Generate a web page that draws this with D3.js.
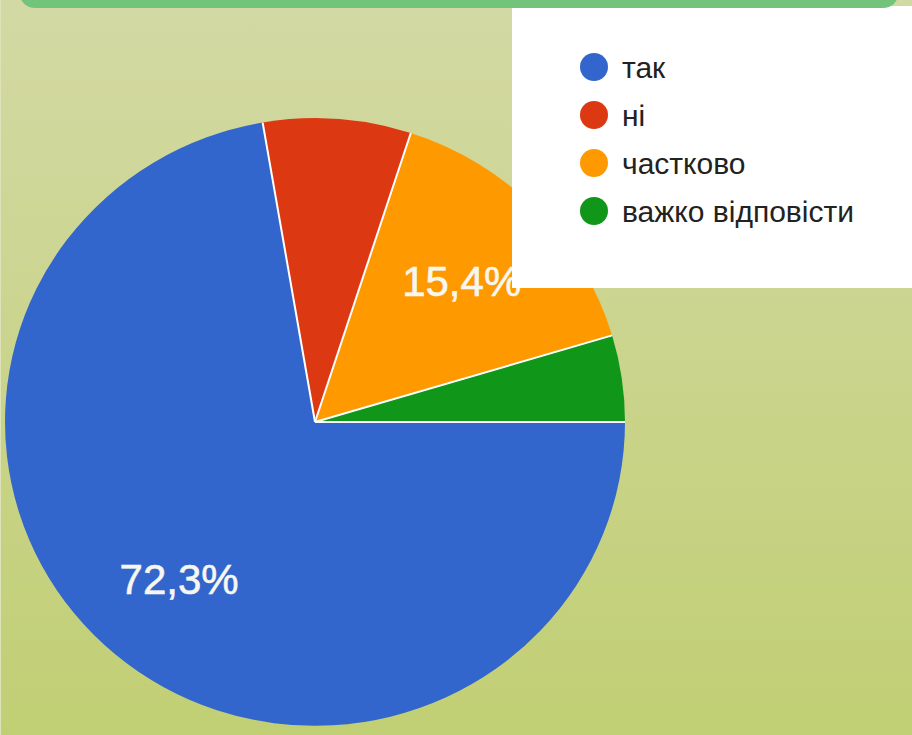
<!DOCTYPE html>
<html>
<head>
<meta charset="utf-8">
<script src="https://cdn.jsdelivr.net/npm/d3@7"></script>
<style>
html, body { margin: 0; padding: 0; }
body { width: 912px; height: 735px; overflow: hidden; }
</style>
</head>
<body>
<div id="chart"></div>
<script>
var categories = ["так", "ні", "частково", "важко відповісти"];
var values = [72.3, 7.7, 15.4, 4.6];
var colors = ["#3366cc", "#dc3912", "#ff9900", "#109618"];

var width = 912, height = 735;
var cx = 315, cy = 422, radius = 310, squash = 0.98;

var svg = d3.select("#chart").append("svg")
    .attr("width", width)
    .attr("height", height);

// background gradient
var defs = svg.append("defs");
var grad = defs.append("linearGradient")
    .attr("id", "bg")
    .attr("x1", 0).attr("y1", 0).attr("x2", 0).attr("y2", 1);
grad.append("stop").attr("offset", "0%").attr("stop-color", "#d3d9a4");
grad.append("stop").attr("offset", "100%").attr("stop-color", "#c1cf74");

svg.append("rect")
    .attr("width", width)
    .attr("height", height)
    .attr("fill", "url(#bg)");

svg.append("rect")
    .attr("x", 0).attr("y", 0)
    .attr("width", 1).attr("height", height)
    .attr("fill", "#dde2b8");

var data = categories.map(function(c, i){
    return {name: c, value: values[i], color: colors[i]};
});

var pie = d3.pie()
    .sort(null)
    .value(function(d){ return d.value; })
    .startAngle(Math.PI / 2)
    .endAngle(Math.PI / 2 + 2 * Math.PI);

var arc = d3.arc().innerRadius(0).outerRadius(radius);
var labelArc = d3.arc().innerRadius(radius * 0.67).outerRadius(radius * 0.67);

var arcs = pie(data);

var g = svg.append("g")
    .attr("transform", "translate(" + cx + "," + cy + ") scale(1," + squash + ")");

g.selectAll(".slice")
    .data(arcs)
    .enter().append("path")
        .attr("class", "slice")
        .attr("d", arc)
        .attr("fill", function(d){ return d.data.color; });

// white separators between slices
g.selectAll(".sep")
    .data(arcs)
    .enter().append("line")
        .attr("class", "sep")
        .attr("x1", 0).attr("y1", 0)
        .attr("x2", function(d){ return radius * Math.sin(d.startAngle); })
        .attr("y2", function(d){ return -radius * Math.cos(d.startAngle); })
        .attr("stroke", "#ffffff")
        .attr("stroke-width", 2);

var comma = d3.formatLocale({decimal: ",", thousands: " ", grouping: [3], currency: ["", ""]}).format(".1f");

svg.selectAll(".slice-label")
    .data(arcs.filter(function(d){ return d.data.value >= 10; }))
    .enter().append("text")
        .attr("class", "slice-label")
        .attr("x", function(d){ return cx - 2 + labelArc.centroid(d)[0]; })
        .attr("y", function(d){ return cy + 2 + labelArc.centroid(d)[1] * squash; })
        .attr("text-anchor", "middle")
        .attr("dominant-baseline", "central")
        .attr("font-family", "Arial, 'Liberation Sans', sans-serif")
        .attr("font-size", 42)
        .attr("fill", "#f7f7f0")
        .attr("stroke", "#f7f7f0")
        .attr("stroke-width", 0.6)
        .text(function(d){ return comma(d.data.value) + "%"; });

// legend
var legend = svg.append("g");
legend.append("rect")
    .attr("x", 512).attr("y", 6)
    .attr("width", 400).attr("height", 282)
    .attr("fill", "#ffffff");

var item = legend.selectAll(".item")
    .data(data)
    .enter().append("g")
        .attr("class", "item")
        .attr("transform", function(d, i){ return "translate(594," + (67 + i * 48) + ")"; });

item.append("circle")
    .attr("r", 14)
    .attr("fill", function(d){ return d.color; });

item.append("text")
    .attr("x", 28)
    .attr("dominant-baseline", "central")
    .attr("font-family", "Arial, 'Liberation Sans', sans-serif")
    .attr("font-size", 30)
    .attr("fill", "#222222")
    .text(function(d){ return d.name; });

// green header bar at the top
svg.append("rect")
    .attr("x", 20).attr("y", -20)
    .attr("width", 878).attr("height", 28)
    .attr("rx", 15).attr("ry", 15)
    .attr("fill", "#72c47a");
</script>
</body>
</html>
